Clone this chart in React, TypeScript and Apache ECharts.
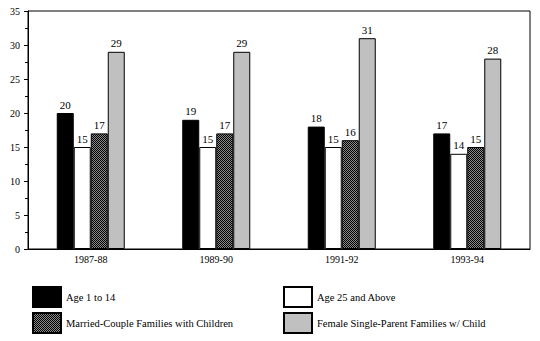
import React, { useEffect, useRef } from "react";
import * as echarts from "echarts";

const categories = ["1987-88", "1989-90", "1991-92", "1993-94"];
const age1to14 = [20, 19, 18, 17];
const age25Above = [15, 15, 15, 14];
const marriedCouple = [17, 17, 16, 15];
const femaleSingle = [29, 29, 31, 28];
const seriesNames = [
  "Age 1 to 14",
  "Age 25 and Above",
  "Married-Couple Families with Children",
  "Female Single-Parent Families w/ Child",
];

const FONT = "Liberation Serif";

function makePattern(): any {
  const c = document.createElement("canvas");
  c.width = 2;
  c.height = 2;
  const ctx = c.getContext("2d");
  if (!ctx) return "#444";
  ctx.fillStyle = "#8a8a8a";
  ctx.fillRect(0, 0, 2, 2);
  ctx.fillStyle = "#000";
  ctx.fillRect(0, 0, 1, 1);
  ctx.fillRect(1, 1, 1, 1);
  return { image: c, repeat: "repeat" };
}

export default function App() {
  const ref = useRef<HTMLDivElement>(null);
  useEffect(() => {
    if (!ref.current) return;
    const chart = echarts.init(ref.current, null, { renderer: "svg" });
    const pattern = makePattern();
    const label = {
      show: true,
      position: "top" as const,
      distance: 3,
      color: "#000",
      fontFamily: FONT,
      fontSize: 11,
    };
    const itemBase = { borderColor: "#000", borderWidth: 1 };
    const legendPos = [
      { left: 27, top: 281 },
      { left: 278, top: 281 },
      { left: 27, top: 307 },
      { left: 278, top: 307 },
    ];
    chart.setOption({
      animation: false,
      backgroundColor: "#fff",
      textStyle: { fontFamily: FONT, color: "#000" },
      grid: {
        left: 28,
        right: 10,
        top: 11,
        bottom: 92,
        show: true,
        borderColor: "#000",
        borderWidth: 1,
        backgroundColor: "transparent",
      },
      legend: seriesNames.map((n, i) => ({
        data: [n],
        left: legendPos[i].left,
        top: legendPos[i].top,
        itemWidth: 28,
        itemHeight: 20,
        itemGap: 7,
        icon: "rect",
        textStyle: { color: "#000", fontFamily: FONT, fontSize: 10.5 },
        selectedMode: false,
      })),
      xAxis: {
        type: "category",
        data: categories,
        axisLine: { lineStyle: { color: "#000", width: 1 } },
        axisTick: { show: false },
        axisLabel: { color: "#000", fontFamily: FONT, fontSize: 10, margin: 5 },
      },
      yAxis: {
        type: "value",
        min: 0,
        max: 35,
        interval: 5,
        axisLine: { show: true, lineStyle: { color: "#000", width: 1 } },
        axisTick: { show: true, length: 4, lineStyle: { color: "#000" } },
        minorTick: { show: true, splitNumber: 2, length: 3, lineStyle: { color: "#000" } },
        splitLine: { show: false },
        axisLabel: { color: "#000", fontFamily: FONT, fontSize: 10, margin: 8 },
      },
      series: [
        {
          name: seriesNames[0],
          type: "bar",
          data: age1to14,
          barWidth: 17,
          barGap: "0%",
          itemStyle: { ...itemBase, color: "#000" },
          label,
        },
        {
          name: seriesNames[1],
          type: "bar",
          data: age25Above,
          barWidth: 17,
          barGap: "0%",
          itemStyle: { ...itemBase, color: "#fff" },
          label,
        },
        {
          name: seriesNames[2],
          type: "bar",
          data: marriedCouple,
          barWidth: 17,
          barGap: "0%",
          itemStyle: { ...itemBase, color: pattern },
          label,
        },
        {
          name: seriesNames[3],
          type: "bar",
          data: femaleSingle,
          barWidth: 17,
          barGap: "0%",
          itemStyle: { ...itemBase, color: "#c0c0c0" },
          label,
        },
      ],
    });
    return () => chart.dispose();
  }, []);
  return <div ref={ref} style={{ width: 540, height: 341, position: "absolute", left: 0, top: 0 }} />;
}
